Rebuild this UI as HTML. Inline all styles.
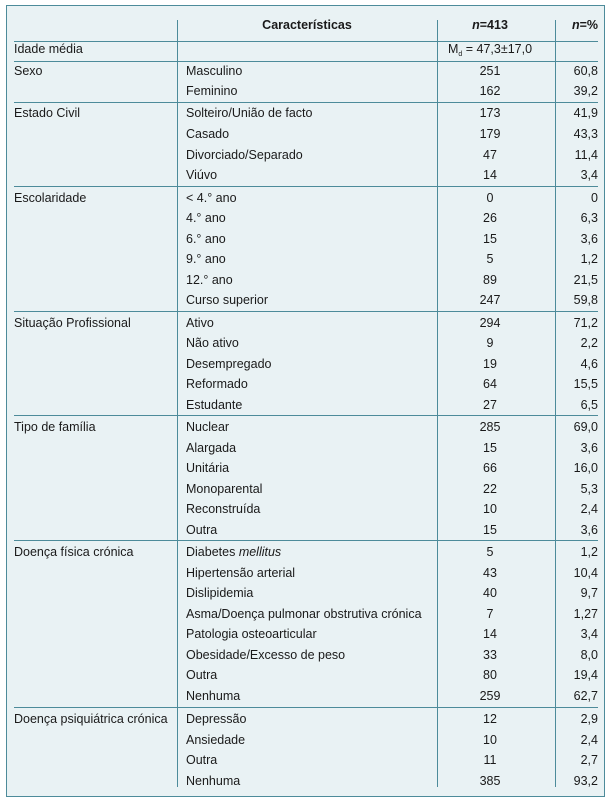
<!DOCTYPE html>
<html><head><meta charset="utf-8"><style>
body{margin:0;width:611px;height:804px;background:#fff;position:relative;font-family:"Liberation Sans",sans-serif;font-size:12.5px;color:#1a1a1a}
.box{position:absolute;left:6px;top:5px;width:597px;height:790px;background:#e9f2f4;border:1px solid #4d8b9a}
.v{position:absolute;width:1px;background:#4d8b9a;top:20px;height:767px}
.h{position:absolute;left:14px;width:584px;height:1px;background:#4d8b9a}
.t{position:absolute;white-space:nowrap;line-height:14px}
.c3{width:120px;left:430px;text-align:center}
.c4{right:13px;text-align:right}
sub{font-size:7px;line-height:0;vertical-align:baseline;position:relative;top:3px}
</style></head><body>
<div class="box"></div>
<div class="v" style="left:177px"></div>
<div class="v" style="left:437px"></div>
<div class="v" style="left:555px"></div>
<div class="h" style="top:41px"></div>
<div class="h" style="top:61px"></div>
<div class="h" style="top:102px"></div>
<div class="h" style="top:186px"></div>
<div class="h" style="top:311px"></div>
<div class="h" style="top:415px"></div>
<div class="h" style="top:540px"></div>
<div class="h" style="top:707px"></div>
<div class="t" style="left:177px;width:260px;text-align:center;top:18px;font-weight:bold">Características</div>
<div class="t c3" style="top:18px;font-weight:bold"><i>n</i>=413</div>
<div class="t c4" style="top:18px;font-weight:bold"><i>n</i>=%</div>
<div class="t" style="left:14px;top:42px">Idade média</div>
<div class="t c3" style="top:42px">M<sub>d</sub> = 47,3±17,0</div>
<div id="rows"></div>
<script>
var d=[
[64,"Sexo","Masculino","251","60,8"],[84,"","Feminino","162","39,2"],
[106,"Estado Civil","Solteiro/União de facto","173","41,9"],[127,"","Casado","179","43,3"],[148,"","Divorciado/Separado","47","11,4"],[168,"","Viúvo","14","3,4"],
[191,"Escolaridade","< 4.° ano","0","0"],[211,"","4.° ano","26","6,3"],[232,"","6.° ano","15","3,6"],[252,"","9.° ano","5","1,2"],[273,"","12.° ano","89","21,5"],[293,"","Curso superior","247","59,8"],
[316,"Situação Profissional","Ativo","294","71,2"],[336,"","Não ativo","9","2,2"],[357,"","Desempregado","19","4,6"],[377,"","Reformado","64","15,5"],[398,"","Estudante","27","6,5"],
[420,"Tipo de família","Nuclear","285","69,0"],[441,"","Alargada","15","3,6"],[461,"","Unitária","66","16,0"],[482,"","Monoparental","22","5,3"],[502,"","Reconstruída","10","2,4"],[523,"","Outra","15","3,6"],
[545,"Doença física crónica","Diabetes <i>mellitus</i>","5","1,2"],[566,"","Hipertensão arterial","43","10,4"],[586,"","Dislipidemia","40","9,7"],[607,"","Asma/Doença pulmonar obstrutiva crónica","7","1,27"],[627,"","Patologia osteoarticular","14","3,4"],[648,"","Obesidade/Excesso de peso","33","8,0"],[668,"","Outra","80","19,4"],[689,"","Nenhuma","259","62,7"],
[712,"Doença psiquiátrica crónica","Depressão","12","2,9"],[733,"","Ansiedade","10","2,4"],[753,"","Outra","11","2,7"],[774,"","Nenhuma","385","93,2"]];
var h="";d.forEach(function(r){h+='<div class="t" style="left:14px;top:'+r[0]+'px">'+r[1]+'</div><div class="t" style="left:186px;top:'+r[0]+'px">'+r[2]+'</div><div class="t c3" style="top:'+r[0]+'px">'+r[3]+'</div><div class="t c4" style="top:'+r[0]+'px">'+r[4]+'</div>';});
document.getElementById("rows").innerHTML=h;
</script>
</body></html>
